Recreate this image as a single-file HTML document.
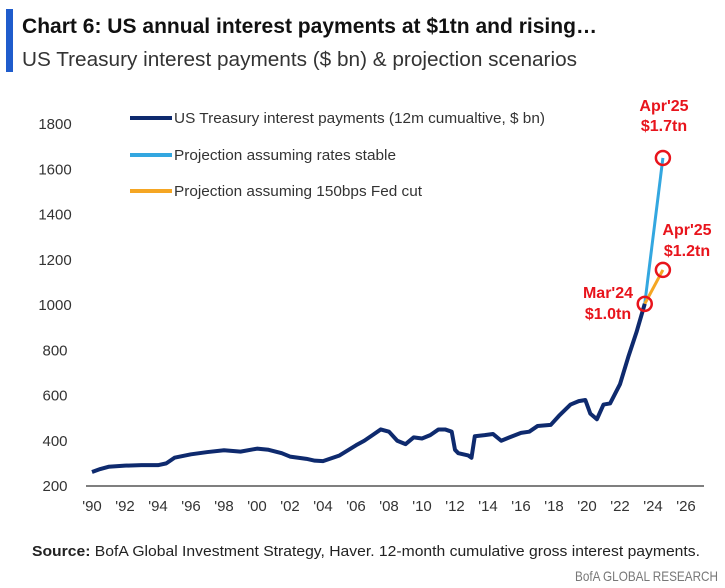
<!DOCTYPE html>
<html><head><meta charset="utf-8"><style>
body{margin:0;background:#fff;width:725px;height:588px;overflow:hidden;font-family:"Liberation Sans",sans-serif}
</style></head><body>
<svg width="725" height="588" style="position:absolute;left:0;top:0">
<rect x="6" y="9" width="7" height="63" fill="#1f5ccc"/>
<text x="22" y="33" font-size="21" font-weight="bold" fill="#111" textLength="575" lengthAdjust="spacingAndGlyphs">Chart 6: US annual interest payments at $1tn and rising…</text>
<text x="22" y="66" font-size="20" fill="#333" textLength="555" lengthAdjust="spacingAndGlyphs">US Treasury interest payments ($ bn) &amp; projection scenarios</text>
<g id="yt"></g><g id="xt"></g>
<line x1="86" y1="486" x2="704" y2="486" stroke="#555" stroke-width="1.5"/>
<g>
<line x1="130" y1="118" x2="172" y2="118" stroke="#0e2a6e" stroke-width="4"/>
<text x="174" y="123" font-size="15" fill="#333" textLength="371" lengthAdjust="spacingAndGlyphs">US Treasury interest payments (12m cumualtive, $ bn)</text>
<line x1="130" y1="155" x2="172" y2="155" stroke="#33a7e0" stroke-width="4"/>
<text x="174" y="160" font-size="15" fill="#333" textLength="222" lengthAdjust="spacingAndGlyphs">Projection assuming rates stable</text>
<line x1="130" y1="191" x2="172" y2="191" stroke="#f5a623" stroke-width="4"/>
<text x="174" y="196" font-size="15" fill="#333" textLength="248" lengthAdjust="spacingAndGlyphs">Projection assuming 150bps Fed cut</text>
</g>
<g id="plot"></g>
<g font-size="16" font-weight="bold" fill="#e8141c" text-anchor="middle">
<text x="664" y="111">Apr'25</text>
<text x="664" y="131">$1.7tn</text>
<text x="687" y="235">Apr'25</text>
<text x="687" y="256">$1.2tn</text>
<text x="608" y="298">Mar'24</text>
<text x="608" y="319">$1.0tn</text>
</g>
<text x="32" y="556" font-size="15" fill="#222" textLength="668" lengthAdjust="spacingAndGlyphs"><tspan font-weight="bold">Source:</tspan> BofA Global Investment Strategy, Haver. 12-month cumulative gross interest payments.</text>
<text x="575" y="581" font-size="14" fill="#777" textLength="143" lengthAdjust="spacingAndGlyphs">BofA GLOBAL RESEARCH</text>
</svg>
<script>
const yTicks=[200,400,600,800,1000,1200,1400,1600,1800];
const xTickYears=[1990,1992,1994,1996,1998,2000,2002,2004,2006,2008,2010,2012,2014,2016,2018,2020,2022,2024,2026];
const actualYears=[1990,1990.5,1991,1992,1993,1994,1994.5,1995,1996,1997,1998,1999,2000,2000.7,2001.5,2002,2003,2003.5,2004,2005,2006,2006.5,2007,2007.5,2008,2008.5,2009,2009.5,2010,2010.5,2011,2011.4,2011.8,2012,2012.2,2012.8,2013,2013.2,2013.8,2014.3,2014.8,2015.3,2016,2016.5,2017,2017.8,2018.3,2019,2019.5,2019.9,2020.2,2020.6,2021,2021.4,2022,2022.5,2023,2023.5];
const actualValues=[262,275,285,290,292,292,300,325,340,350,358,352,365,360,345,330,320,312,310,335,380,400,425,450,440,400,385,415,410,425,450,450,440,360,345,335,325,420,425,430,400,415,435,440,465,470,510,560,575,580,520,495,560,565,650,770,880,1005];
const stableYears=[2023.5,2024.6];const stableValues=[1005,1650];
const cutYears=[2023.5,2024.6];const cutValues=[1005,1155];
const xS=y=>92+(y-1990)*16.5, yS=v=>486-(v-200)/200*45.25;
const NS='http://www.w3.org/2000/svg';
function mk(t,a,p){const e=document.createElementNS(NS,t);for(const k in a)e.setAttribute(k,a[k]);p.appendChild(e);return e;}
const yt=document.getElementById('yt'),xt=document.getElementById('xt'),plot=document.getElementById('plot');
yTicks.forEach(v=>{const t=mk('text',{x:55,y:yS(v)+5,'font-size':15,fill:'#333','text-anchor':'middle'},yt);t.textContent=v;

});
xTickYears.forEach(y=>{const t=mk('text',{x:xS(y),y:511,'font-size':15,fill:'#333','text-anchor':'middle'},xt);t.textContent="'"+String(y).slice(2);

});
function line(xs,vs,c,w,n){const p=mk('polyline',{points:xs.map((x,i)=>xS(x)+','+yS(vs[i])).join(' '),fill:'none',stroke:c,'stroke-width':w,'stroke-linejoin':'round'},plot);

}
line(stableYears,stableValues,'#33a7e0',3,'series-rates-stable');
line(cutYears,cutValues,'#f5a623',3,'series-fed-cut');
line(actualYears,actualValues,'#0e2a6e',4,'series-actual');
[[stableYears[0],stableValues[0]],[stableYears[1],stableValues[1]],[cutYears[1],cutValues[1]]].forEach(p=>{const c=mk('circle',{cx:xS(p[0]),cy:yS(p[1]),r:7,fill:'none',stroke:'#e8141c','stroke-width':2.5},plot);

});
</script>
</body></html>
